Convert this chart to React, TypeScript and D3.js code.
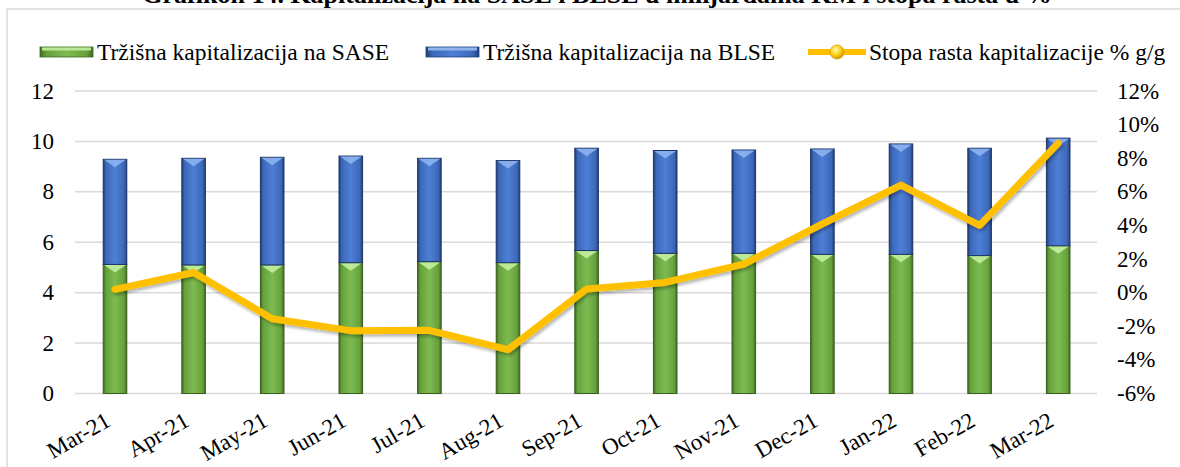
import React from 'react';
import * as d3 from 'd3';

// data
const months = ['Mar-21', 'Apr-21', 'May-21', 'Jun-21', 'Jul-21', 'Aug-21', 'Sep-21', 'Oct-21', 'Nov-21', 'Dec-21', 'Jan-22', 'Feb-22', 'Mar-22'];
const sase = [5.12, 5.1, 5.1, 5.19, 5.23, 5.19, 5.67, 5.56, 5.56, 5.52, 5.52, 5.47, 5.86];
const blse = [4.17, 4.23, 4.27, 4.23, 4.1, 4.05, 4.06, 4.08, 4.1, 4.18, 4.38, 4.26, 4.27];
const growth = [0.2, 1.2, -1.55, -2.26, -2.24, -3.39, 0.22, 0.61, 1.7, 4.1, 6.4, 4.0, 8.9];
const leftTicks = [0, 2, 4, 6, 8, 10, 12];
const rightTicks = [-6, -4, -2, 0, 2, 4, 6, 8, 10, 12];

const W = 1180;
const H = 467;
const FONT = "'Liberation Serif', serif";

export default function App() {
  const x = d3.scaleBand<string>()
    .domain(months)
    .range([75.7, 1097.5])
    .paddingInner(0.7)
    .paddingOuter(0.35);
  const yL = d3.scaleLinear().domain([0, 12]).range([393.5, 91]);
  const yR = d3.scaleLinear().domain([-6, 12]).range([393.5, 91]);
  const bw = x.bandwidth();

  const line = d3.line<number>()
    .x((_, i) => (x(months[i]) as number) + bw / 2)
    .y(d => yR(d));

  const seg = (key: string, x0: number, y0: number, y1: number, grad: string, bevel: string, edge: string) => (
    <g key={key}>
      <rect x={x0} y={y1} width={bw} height={y0 - y1} fill={`url(#${grad})`} stroke={edge} strokeWidth={1} />
      <polygon points={`${x0 + 1},${y1 + 0.5} ${x0 + bw - 1},${y1 + 0.5} ${x0 + bw / 2},${y1 + 8}`} fill={bevel} opacity={0.9} />
    </g>
  );

  return (
    <svg width={W} height={H} style={{ position: 'absolute', left: 0, top: 0, background: '#fff' }}>
      <defs>
        <linearGradient id="gGreen" x1="0" x2="1" y1="0" y2="0">
          <stop offset="0" stopColor="#40691f" />
          <stop offset="0.12" stopColor="#66a23c" />
          <stop offset="0.5" stopColor="#7dbb52" />
          <stop offset="0.88" stopColor="#66a23c" />
          <stop offset="1" stopColor="#40691f" />
        </linearGradient>
        <linearGradient id="gBlue" x1="0" x2="1" y1="0" y2="0">
          <stop offset="0" stopColor="#203f78" />
          <stop offset="0.12" stopColor="#3d68b8" />
          <stop offset="0.5" stopColor="#4d7fd6" />
          <stop offset="0.88" stopColor="#3d68b8" />
          <stop offset="1" stopColor="#203f78" />
        </linearGradient>
        <radialGradient id="gBall" cx="0.4" cy="0.35" r="0.7">
          <stop offset="0" stopColor="#fff7c0" />
          <stop offset="0.5" stopColor="#ffd21a" />
          <stop offset="1" stopColor="#c98f00" />
        </radialGradient>
        <filter id="shadow" x="-10%" y="-10%" width="120%" height="130%">
          <feDropShadow dx="1.5" dy="2.5" stdDeviation="1.5" floodColor="#000" floodOpacity="0.3" />
        </filter>
      </defs>

      <g style={{ fontFamily: FONT }} fill="#000">
        {/* title, cut off at the top like in the source */}
        <text x={597} y={3} textAnchor="middle" fontSize={26} fontWeight="bold" style={{ fontFamily: FONT }}>
          Grafikon 14. Kapitalizacija na SASE i BLSE u milijardama KM i stopa rasta u %
        </text>

        {/* chart frame */}
        <rect x={7} y={9} width={W} height={H} fill="none" stroke="#d9d9d9" strokeWidth={1.5} />

        {/* legend */}
        <g fontSize={23.5}>
          <rect x={40} y={47} width={53} height={10} fill="url(#gGreen)" stroke="#40691f" strokeWidth={0.8} />
          <rect x={42} y={47.5} width={49} height={3} fill="#b8e896" />
          <text x={97} y={59.5} style={{ fontFamily: FONT }}>Tržišna kapitalizacija na SASE</text>
          <rect x={426} y={47} width={53} height={10} fill="url(#gBlue)" stroke="#203f78" strokeWidth={0.8} />
          <rect x={428} y={47.5} width={49} height={3} fill="#8fb3ea" />
          <text x={483} y={59.5} style={{ fontFamily: FONT }}>Tržišna kapitalizacija na BLSE</text>
          <line x1={808} x2={866} y1={52} y2={52} stroke="#FFC000" strokeWidth={6} />
          <circle cx={837} cy={52} r={7} fill="url(#gBall)" stroke="#d9a000" strokeWidth={0.8} />
          <text x={869} y={59.5} style={{ fontFamily: FONT }}>Stopa rasta kapitalizacije % g/g</text>
        </g>

        {/* grid */}
        {leftTicks.map(t => (
          <line key={t} x1={75} x2={1097} y1={yL(t)} y2={yL(t)} stroke="#d9d9d9" strokeWidth={1.5} />
        ))}

        {/* left axis labels */}
        <g fontSize={23} textAnchor="end">
          {leftTicks.map(t => (
            <text key={t} x={54} y={yL(t) + 7.5} style={{ fontFamily: FONT }}>{t}</text>
          ))}
        </g>

        {/* right axis labels */}
        <g fontSize={23} textAnchor="start">
          {rightTicks.map(t => (
            <text key={t} x={1117} y={yR(t) + 7.5} style={{ fontFamily: FONT }}>{`${t}%`}</text>
          ))}
        </g>

        {/* stacked bars */}
        {months.map((m, i) => {
          const x0 = x(m) as number;
          const top1 = sase[i];
          const top2 = sase[i] + blse[i];
          return (
            <g key={m}>
              {seg('s', x0, yL(0), yL(top1), 'gGreen', '#c4f0a0', '#3b5f1f')}
              {seg('b', x0, yL(top1), yL(top2), 'gBlue', '#8db3ee', '#1c3567')}
            </g>
          );
        })}

        {/* growth line */}
        <path d={line(growth) as string} fill="none" stroke="#FFC000" strokeWidth={7} strokeLinejoin="round" strokeLinecap="round" filter="url(#shadow)" />

        {/* x labels */}
        <g fontSize={23} textAnchor="end">
          {months.map(m => {
            const cx = (x(m) as number) + bw / 2;
            return (
              <text key={m} transform={`translate(${cx - 3},${425}) rotate(-30)`} style={{ fontFamily: FONT }}>{m}</text>
            );
          })}
        </g>
      </g>
    </svg>
  );
}
